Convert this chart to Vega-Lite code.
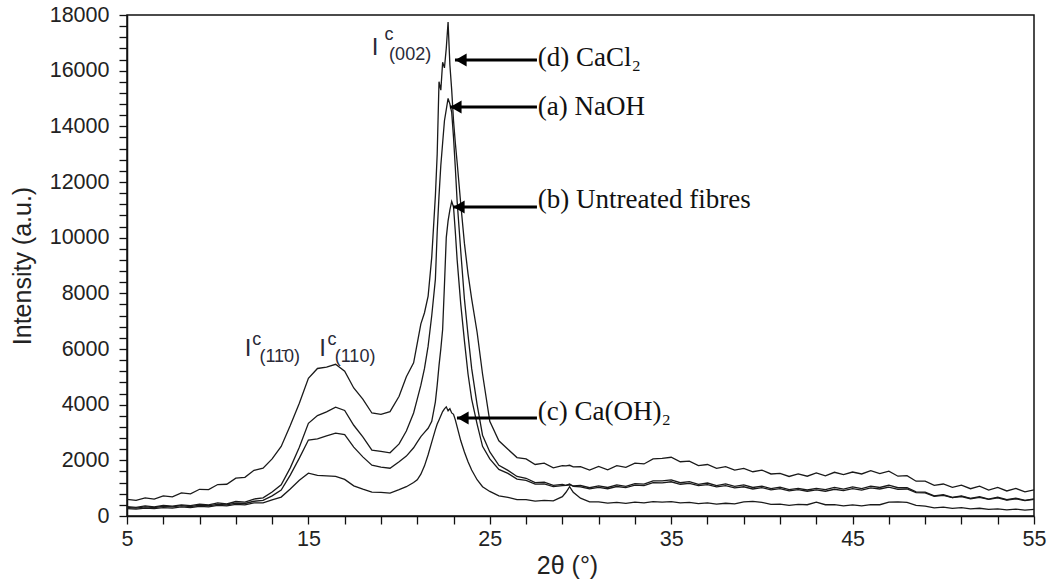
{
  "$schema": "https://vega.github.io/schema/vega-lite/v6.json",
  "width": 907,
  "height": 501,
  "autosize": {"type": "none"},
  "padding": {"left": 127, "top": 15, "right": 19, "bottom": 65},
  "background": "white",
  "config": {
    "view": {"stroke": "#111", "strokeWidth": 1.5},
    "axis": {
      "grid": false,
      "domainColor": "#111",
      "domainWidth": 1.5,
      "tickColor": "#111",
      "tickWidth": 1.3,
      "tickSize": 8,
      "labelOverlap": false,
      "labelFlush": false,
      "labelFont": "Liberation Sans",
      "labelFontSize": 21.5,
      "labelColor": "#222",
      "titleFont": "Liberation Sans",
      "titleFontSize": 25,
      "titleFontWeight": "normal",
      "titleColor": "#222"
    }
  },
  "datasets": {
    "xrd": [
      {"t": 5, "d": 600, "a": 340, "b": 305, "c": 262},
      {"t": 5.5, "d": 560, "a": 310, "b": 285, "c": 248},
      {"t": 6, "d": 650, "a": 362, "b": 330, "c": 285},
      {"t": 6.5, "d": 605, "a": 330, "b": 300, "c": 268},
      {"t": 7, "d": 720, "a": 385, "b": 350, "c": 302},
      {"t": 7.5, "d": 690, "a": 352, "b": 330, "c": 285},
      {"t": 8, "d": 830, "a": 402, "b": 372, "c": 328},
      {"t": 8.5, "d": 795, "a": 372, "b": 340, "c": 305},
      {"t": 9, "d": 960, "a": 430, "b": 392, "c": 348},
      {"t": 9.5, "d": 950, "a": 398, "b": 368, "c": 330},
      {"t": 10, "d": 1130, "a": 470, "b": 420, "c": 380},
      {"t": 10.5, "d": 1140, "a": 432, "b": 400, "c": 362},
      {"t": 11, "d": 1360, "a": 520, "b": 462, "c": 420},
      {"t": 11.5, "d": 1390, "a": 500, "b": 450, "c": 402},
      {"t": 12, "d": 1640, "a": 610, "b": 530, "c": 470},
      {"t": 12.5, "d": 1720, "a": 650, "b": 560, "c": 470},
      {"t": 13, "d": 2050, "a": 860, "b": 725, "c": 580},
      {"t": 13.5, "d": 2500, "a": 1120, "b": 930, "c": 680},
      {"t": 14, "d": 3250, "a": 1730, "b": 1470, "c": 970},
      {"t": 14.5, "d": 4050, "a": 2470, "b": 2080, "c": 1285},
      {"t": 15, "d": 4950, "a": 3330, "b": 2730, "c": 1540},
      {"t": 15.5, "d": 5300, "a": 3610, "b": 2770, "c": 1460},
      {"t": 16, "d": 5350, "a": 3740, "b": 2880, "c": 1440},
      {"t": 16.5, "d": 5450, "a": 3910, "b": 2980, "c": 1425},
      {"t": 17, "d": 5200, "a": 3790, "b": 2925, "c": 1315},
      {"t": 17.5, "d": 4600, "a": 3260, "b": 2475, "c": 1085},
      {"t": 18, "d": 4200, "a": 2840, "b": 2125, "c": 965},
      {"t": 18.5, "d": 3700, "a": 2370, "b": 1825, "c": 855},
      {"t": 19, "d": 3650, "a": 2320, "b": 1755, "c": 850},
      {"t": 19.5, "d": 3750, "a": 2270, "b": 1715, "c": 825},
      {"t": 20, "d": 4300, "a": 2590, "b": 1950, "c": 945},
      {"t": 20.4, "d": 5002, "a": 3052, "b": 2152, "c": 1052},
      {"t": 20.8, "d": 5502, "a": 3702, "b": 2452, "c": 1202},
      {"t": 21.0, "d": 6202, "a": 4202, "b": 2652, "c": 1302},
      {"t": 21.2, "d": 6902, "a": 4702, "b": 2852, "c": 1502},
      {"t": 21.4, "d": 7302, "a": 5302, "b": 3002, "c": 1802},
      {"t": 21.6, "d": 7902, "a": 6102, "b": 3152, "c": 2202},
      {"t": 21.8, "d": 9302, "a": 7202, "b": 3402, "c": 2652},
      {"t": 22.0, "d": 11502, "a": 8502, "b": 4102, "c": 3102},
      {"t": 22.1, "d": 13002, "a": 10202, "b": 4702, "c": 3302},
      {"t": 22.2, "d": 15602, "a": 11502, "b": 5402, "c": 3452},
      {"t": 22.3, "d": 15302, "a": 12602, "b": 6002, "c": 3602},
      {"t": 22.4, "d": 16302, "a": 13402, "b": 6702, "c": 3752},
      {"t": 22.5, "d": 16102, "a": 14202, "b": 8302, "c": 3852},
      {"t": 22.6, "d": 16802, "a": 14602, "b": 10002, "c": 3922},
      {"t": 22.7, "d": 17750, "a": 15002, "b": 10602, "c": 3782},
      {"t": 22.8, "d": 16202, "a": 14802, "b": 11002, "c": 3852},
      {"t": 22.9, "d": 15302, "a": 14502, "b": 11302, "c": 3702},
      {"t": 23.0, "d": 14202, "a": 13602, "b": 11102, "c": 3652},
      {"t": 23.1, "d": 13402, "a": 12502, "b": 10202, "c": 3452},
      {"t": 23.2, "d": 12702, "a": 11302, "b": 9202, "c": 3202},
      {"t": 23.4, "d": 11202, "a": 9502, "b": 7602, "c": 2702},
      {"t": 23.6, "d": 9802, "a": 7802, "b": 6302, "c": 2302},
      {"t": 23.8, "d": 8702, "a": 6502, "b": 5102, "c": 1952},
      {"t": 24.0, "d": 7802, "a": 5302, "b": 4202, "c": 1652},
      {"t": 24.3, "d": 6602, "a": 4002, "b": 3302, "c": 1302},
      {"t": 24.6, "d": 5102, "a": 2902, "b": 2502, "c": 1052},
      {"t": 25.0, "d": 3402, "a": 2302, "b": 2052, "c": 882},
      {"t": 25.5, "d": 2700, "a": 1820, "b": 1675, "c": 725},
      {"t": 26, "d": 2400, "a": 1640, "b": 1530, "c": 670},
      {"t": 26.5, "d": 2100, "a": 1420, "b": 1325, "c": 585},
      {"t": 27, "d": 2050, "a": 1355, "b": 1280, "c": 590},
      {"t": 27.5, "d": 1850, "a": 1200, "b": 1145, "c": 535},
      {"t": 28, "d": 1900, "a": 1215, "b": 1150, "c": 560},
      {"t": 28.5, "d": 1730, "a": 1100, "b": 1055, "c": 545},
      {"t": 29, "d": 1810, "a": 1135, "b": 1090, "c": 695},
      {"t": 29.2, "d": 1802, "a": 1102, "b": 1102, "c": 852},
      {"t": 29.4, "d": 1822, "a": 1122, "b": 1152, "c": 1052},
      {"t": 29.6, "d": 1762, "a": 1082, "b": 1062, "c": 852},
      {"t": 30, "d": 1770, "a": 1095, "b": 1050, "c": 640},
      {"t": 30.5, "d": 1650, "a": 1015, "b": 975, "c": 505},
      {"t": 31, "d": 1780, "a": 1085, "b": 1030, "c": 505},
      {"t": 31.5, "d": 1660, "a": 1025, "b": 980, "c": 465},
      {"t": 32, "d": 1810, "a": 1115, "b": 1060, "c": 488},
      {"t": 32.5, "d": 1750, "a": 1065, "b": 1020, "c": 455},
      {"t": 33, "d": 1900, "a": 1165, "b": 1110, "c": 498},
      {"t": 33.5, "d": 1870, "a": 1145, "b": 1090, "c": 475},
      {"t": 34, "d": 2050, "a": 1265, "b": 1200, "c": 518},
      {"t": 34.5, "d": 2070, "a": 1265, "b": 1190, "c": 495},
      {"t": 35, "d": 2110, "a": 1295, "b": 1230, "c": 518},
      {"t": 35.5, "d": 1950, "a": 1195, "b": 1140, "c": 475},
      {"t": 36, "d": 1970, "a": 1235, "b": 1170, "c": 488},
      {"t": 36.5, "d": 1810, "a": 1135, "b": 1090, "c": 445},
      {"t": 37, "d": 1850, "a": 1185, "b": 1130, "c": 468},
      {"t": 37.5, "d": 1710, "a": 1095, "b": 1050, "c": 425},
      {"t": 38, "d": 1770, "a": 1155, "b": 1090, "c": 458},
      {"t": 38.5, "d": 1650, "a": 1065, "b": 1010, "c": 435},
      {"t": 39, "d": 1710, "a": 1115, "b": 1050, "c": 505},
      {"t": 39.5, "d": 1590, "a": 1025, "b": 970, "c": 525},
      {"t": 40, "d": 1650, "a": 1075, "b": 1020, "c": 488},
      {"t": 40.5, "d": 1510, "a": 985, "b": 940, "c": 415},
      {"t": 41, "d": 1530, "a": 1035, "b": 980, "c": 428},
      {"t": 41.5, "d": 1420, "a": 945, "b": 900, "c": 385},
      {"t": 42, "d": 1510, "a": 995, "b": 950, "c": 418},
      {"t": 42.5, "d": 1430, "a": 935, "b": 890, "c": 405},
      {"t": 43, "d": 1550, "a": 995, "b": 940, "c": 498},
      {"t": 43.5, "d": 1440, "a": 945, "b": 890, "c": 405},
      {"t": 44, "d": 1570, "a": 1025, "b": 960, "c": 408},
      {"t": 44.5, "d": 1490, "a": 965, "b": 910, "c": 365},
      {"t": 45, "d": 1580, "a": 1045, "b": 980, "c": 398},
      {"t": 45.5, "d": 1510, "a": 985, "b": 930, "c": 365},
      {"t": 46, "d": 1630, "a": 1075, "b": 1010, "c": 408},
      {"t": 46.5, "d": 1520, "a": 1025, "b": 970, "c": 405},
      {"t": 47, "d": 1610, "a": 1105, "b": 1040, "c": 498},
      {"t": 47.5, "d": 1430, "a": 1015, "b": 960, "c": 505},
      {"t": 48, "d": 1450, "a": 1015, "b": 970, "c": 488},
      {"t": 48.5, "d": 1250, "a": 865, "b": 840, "c": 385},
      {"t": 49, "d": 1250, "a": 855, "b": 830, "c": 358},
      {"t": 49.5, "d": 1100, "a": 725, "b": 710, "c": 295},
      {"t": 50, "d": 1150, "a": 765, "b": 740, "c": 318},
      {"t": 50.5, "d": 1030, "a": 665, "b": 660, "c": 275},
      {"t": 51, "d": 1110, "a": 725, "b": 700, "c": 298},
      {"t": 51.5, "d": 980, "a": 635, "b": 620, "c": 255},
      {"t": 52, "d": 1070, "a": 695, "b": 670, "c": 278},
      {"t": 52.5, "d": 930, "a": 605, "b": 600, "c": 235},
      {"t": 53, "d": 1030, "a": 675, "b": 650, "c": 258},
      {"t": 53.5, "d": 900, "a": 585, "b": 570, "c": 220},
      {"t": 54, "d": 990, "a": 645, "b": 620, "c": 248},
      {"t": 54.5, "d": 870, "a": 565, "b": 550, "c": 210},
      {"t": 55, "d": 940, "a": 615, "b": 595, "c": 235}
    ],
    "arrows": [
      {"series": "d", "t": 23.08, "end": 27.6, "v": 16385},
      {"series": "a", "t": 22.8, "end": 27.6, "v": 14697},
      {"series": "b", "t": 22.97, "end": 27.6, "v": 11103},
      {"series": "c", "t": 23.19, "end": 27.6, "v": 3521}
    ],
    "labels": [
      {"text": "(d) CaCl₂", "t": 27.65, "v": 16457},
      {"text": "(a) NaOH", "t": 27.65, "v": 14697},
      {"text": "(b) Untreated fibres", "t": 27.65, "v": 11355},
      {"text": "(c) Ca(OH)₂", "t": 27.65, "v": 3737}
    ],
    "bigI": [
      {"text": "I", "t": 18.67, "v": 16565},
      {"text": "I", "t": 11.67, "v": 5749},
      {"text": "I", "t": 15.78, "v": 5749}
    ],
    "smallText": [
      {"text": "c", "t": 19.2, "v": 17100},
      {"text": "(002)", "t": 19.45, "v": 16400},
      {"text": "c", "t": 11.9, "v": 6150},
      {"text": "(11̄0)", "t": 12.3, "v": 5520},
      {"text": "c", "t": 16.05, "v": 6150},
      {"text": "(110)", "t": 16.45, "v": 5520}
    ]
  },
  "encoding": {
    "x": {
      "field": "t", "type": "quantitative", "title": "2θ (°)",
      "scale": {"domain": [5, 55], "nice": false, "zero": false},
      "axis": {
        "values": [5,7,9,11,13,15,17,19,21,23,25,27,29,31,33,35,37,39,41,43,45,47,49,51,53,55],
        "labelExpr": "(datum.value - 5) % 10 === 0 ? datum.label : ''",
        "labelPadding": 4,
        "titlePadding": 4,
        "titleX": 440
      }
    },
    "y": {
      "field": "v", "type": "quantitative", "title": "Intensity (a.u.)",
      "scale": {"domain": [0, 18000], "nice": false},
      "axis": {
        "values": [0,400,800,1200,1600,2000,2400,2800,3200,3600,4000,4400,4800,5200,5600,6000,6400,6800,7200,7600,8000,8400,8800,9200,9600,10000,10400,10800,11200,11600,12000,12400,12800,13200,13600,14000,14400,14800,15200,15600,16000,16400,16800,17200,17600,18000],
        "format": "d",
        "labelExpr": "datum.value % 2000 === 0 ? datum.label : ''",
        "labelPadding": 10,
        "titlePadding": 14
      }
    }
  },
  "layer": [
    {
      "data": {"name": "xrd"},
      "transform": [{"fold": ["a", "b", "c", "d"], "as": ["series", "v"]}],
      "mark": {"type": "line", "color": "#1a1a1a", "strokeWidth": 1.3},
      "encoding": {
        "detail": {"field": "series", "type": "nominal"}
      }
    },
    {
      "data": {"name": "arrows"},
      "mark": {"type": "rule", "color": "#000", "strokeWidth": 3},
      "encoding": {
        "x2": {"field": "end"}
      }
    },
    {
      "data": {"name": "arrows"},
      "mark": {"type": "point", "shape": "triangle-left", "filled": true, "color": "#000", "size": 170, "opacity": 1, "xOffset": 6},
      "encoding": {}
    },
    {
      "data": {"name": "labels"},
      "mark": {"type": "text", "font": "Liberation Serif, DejaVu Serif, serif", "fontSize": 27, "align": "left", "baseline": "middle", "color": "#111"},
      "encoding": {
        "text": {"field": "text"}
      }
    },
    {
      "data": {"name": "bigI"},
      "mark": {"type": "text", "font": "Liberation Sans", "fontSize": 24, "align": "center", "baseline": "alphabetic", "color": "#2a2a38"},
      "encoding": {
        "text": {"field": "text"}
      }
    },
    {
      "data": {"name": "smallText"},
      "mark": {"type": "text", "font": "Liberation Sans, DejaVu Sans", "fontSize": 18, "align": "left", "baseline": "alphabetic", "color": "#2a2a38"},
      "encoding": {
        "text": {"field": "text"}
      }
    }
  ]
}
